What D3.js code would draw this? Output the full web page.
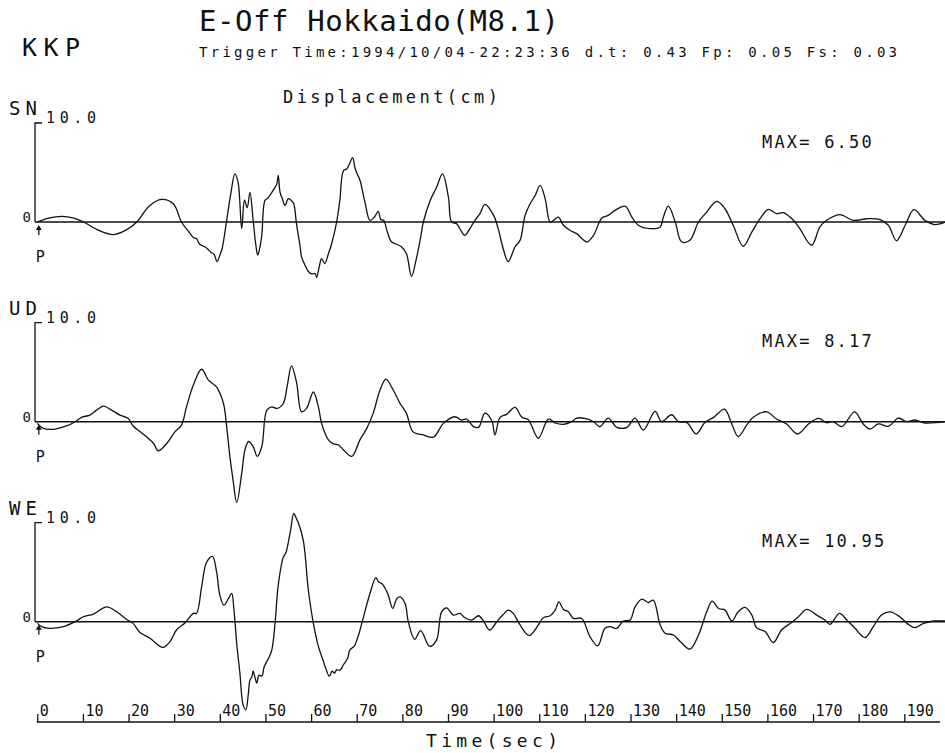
<!DOCTYPE html>
<html>
<head>
<meta charset="utf-8">
<title>E-Off Hokkaido (M8.1) - KKP displacement</title>
<script src="https://cdn.jsdelivr.net/npm/d3@7"></script>
<style>
  html, body { margin: 0; padding: 0; background: #fff; }
  svg { display: block; }
  text { font-family: "DejaVu Sans Mono", "Liberation Mono", monospace; fill: #111; }
</style>
</head>
<body>
<svg id="chart" width="945" height="753"></svg>
<script>
// ---- station / event header ----
const stationCode = "KKP";
const eventTitle = "E-Off Hokkaido(M8.1)";
const triggerInfo = "Trigger Time:1994/10/04-22:23:36 d.t: 0.43  Fp: 0.05  Fs: 0.03";
const quantityLabel = "Displacement(cm)";
const timeLabel = "Time(sec)";

// ---- axis ticks ----
const timeTicks = [0, 10, 20, 30, 40, 50, 60, 70, 80, 90, 100, 110, 120, 130, 140, 150, 160, 170, 180, 190];
const fullScale = 10.0;
const fullScaleLabel = "10.0";

// ---- components ----
const channels = ["SN", "UD", "WE"];
const maxValues = ["6.50", "8.17", "10.95"];

// displacement traces: [time (s), displacement (cm)]
const snTrace = [
  [0,0],[2.5,0.38],[5.3,0.57],[8,0.4],[10.1,0],[13.5,-0.85],[16.7,-1.27],[19.5,-0.8],[21.8,0],
  [24.5,1.6],[27.2,2.28],[29.8,1.84],[31.6,0],[33.5,-1.17],[34.2,-1.57],[34.9,-1.7],[35.6,-2.25],
  [36.5,-2.45],[37.3,-2.7],[38.0,-3.05],[38.7,-3.25],[39.4,-4.0],[40.0,-3.35],[40.5,-2.68],
  [41.5,0.17],[42.4,2.85],[43.3,4.86],[44.0,4.0],[44.8,-0.67],[45.4,2.2],[46.0,1.44],[46.6,3.0],
  [47.3,0.17],[47.9,-2.35],[48.3,-3.35],[48.8,-2.5],[49.2,-1.34],[49.9,2.18],[50.6,2.45],[51.4,3.0],
  [52.1,3.5],[52.5,3.85],[52.8,4.7],[53.2,3.0],[53.7,2.35],[54.3,1.67],[55.0,2.35],[55.7,2.18],
  [56.2,1.84],[56.8,-0.17],[57.6,-2.5],[57.9,-3.5],[58.3,-4.0],[58.8,-4.5],[59.4,-5.0],[60.1,-5.25],
  [60.9,-5.2],[61.2,-5.6],[61.8,-4.5],[62.3,-3.7],[63.0,-4.2],[63.8,-3.2],[64.5,-2.2],[65.6,0],
  [66.3,2.2],[67.1,5.2],[67.8,5.36],[68.4,5.86],[69.1,6.5],[69.6,5.5],[70.1,4.86],[70.7,4.25],
  [71.8,2.0],[72.9,0.17],[73.9,0.5],[74.7,1.07],[75.3,0.23],[75.9,0.17],[76.7,-1.0],[77.6,-2.0],
  [78.7,-2.25],[79.8,-2.5],[80.9,-3.2],[82.0,-5.5],[83.0,-3.85],[83.9,-1.84],[84.6,0],[86.1,2.18],
  [87.5,3.5],[88.8,4.86],[90.1,2.5],[90.8,0],[91.9,-0.17],[93.0,-1.0],[93.7,-1.34],[94.8,-0.67],
  [95.9,0.17],[97.0,0.84],[98.1,1.78],[100.0,0.67],[101.0,-0.67],[102.1,-2.7],[103.2,-4.0],
  [104.7,-2.5],[105.8,-1.84],[106.9,0.67],[108.0,1.84],[109.1,2.68],[110.2,3.7],[111.3,2.35],
  [112.4,0],[113.5,0.3],[114.2,0.5],[115.3,-0.33],[116.7,-0.84],[118.2,-1.17],[120.4,-2.0],
  [121.9,-1.34],[123.7,0.4],[125.1,0.67],[126.6,1.17],[128.8,1.6],[130.3,0.5],[131.7,-0.33],
  [134.3,-0.67],[136.5,-0.5],[137.2,0.5],[138.3,1.6],[139.8,0],[141.2,-2.0],[143.0,-1.84],
  [144.9,0],[146.7,1.0],[148.9,2.08],[150.7,1.34],[152.5,-0.33],[154.7,-2.45],[156.6,-1.0],
  [158.4,0.33],[160.2,1.27],[162.0,0.84],[163.5,0.94],[165.7,0.17],[167.1,-0.67],[169.7,-2.35],
  [171.5,-0.5],[173.0,0.17],[175.9,0.74],[178.8,0.17],[181.8,0.33],[184.7,0.23],[186.5,-0.33],
  [188.3,-1.9],[190.2,-0.33],[192.1,1.24],[194.5,0.17],[196.4,-0.25],[197.8,-0.2],[198.9,0]
];

const udTrace = [
  [0,-0.17],[1.3,-0.67],[3.5,-0.77],[6.4,-0.43],[8.3,0],[9.7,0.44],[11.5,0.67],[13.0,1.17],
  [14.5,1.57],[16.3,1.17],[18.1,0.67],[19.9,0.34],[21.0,-0.44],[22.5,-1.0],[24.3,-1.67],
  [25.5,-2.2],[26.5,-2.95],[28.4,-2.18],[30.2,-1.0],[31.6,-0.34],[32.7,1.5],[34.2,3.7],[36.0,5.3],
  [37.5,4.2],[39.3,3.5],[40.8,1.84],[41.5,-0.5],[42.2,-3.5],[42.9,-5.9],[43.7,-8.17],[44.8,-5.2],
  [45.5,-2.85],[46.3,-2.0],[47.3,-2.5],[48.2,-3.5],[49.2,-2.5],[50.3,1.17],[51.4,1.5],[52.5,1.34],
  [53.9,1.84],[54.8,3.7],[55.7,5.63],[56.8,4.0],[57.9,1.0],[59.0,1.34],[60.5,3.0],[61.6,1.5],
  [62.3,-0.17],[63.8,-1.84],[64.9,-2.24],[66.0,-2.35],[67.1,-2.85],[68.9,-3.5],[70.7,-1.84],
  [72.2,-0.67],[73.6,0.84],[75.1,3.2],[76.4,4.3],[78.0,3.2],[79.5,1.84],[80.9,0.84],[82.3,-1.0],
  [84.6,-1.34],[86.8,-1.57],[89.0,-0.17],[91.5,0.5],[93.0,0.17],[94.1,0.27],[95.6,-0.5],
  [96.7,-0.57],[98.1,0.87],[99.6,0.1],[100.3,-1.34],[101.4,0.44],[102.9,0.77],[104.7,1.44],
  [106.2,0.44],[107.6,0.2],[109.8,-1.67],[112.0,0.27],[113.5,-0.13],[115.3,-0.27],[117.1,0],
  [118.2,0.37],[120.0,0.33],[121.9,0],[123.3,-0.5],[125.1,0.37],[127.0,-0.57],[129.2,-0.57],
  [131.0,0.37],[132.8,-0.84],[135.4,1.04],[136.8,0],[139.0,0.7],[140.5,0],[142.3,-0.07],
  [144.4,-1.24],[146.3,-0.07],[148.2,0.44],[150.6,1.27],[152.2,-0.23],[153.6,-1.5],[155.5,-0.33],
  [156.9,0.44],[159.8,1.0],[162.0,0.27],[164.2,-0.23],[166.6,-1.24],[169.0,-0.23],[171.2,0.33],
  [173.0,-0.1],[174.4,0],[176.3,-0.5],[179.1,1.0],[181.0,-0.23],[182.5,-0.74],[184.3,-0.23],
  [186.5,-0.47],[188.7,0.37],[190.5,0],[192.3,0.17],[194.5,-0.13],[198.9,0]
];

const weTrace = [
  [0,-0.17],[1.0,-0.5],[2.8,-0.67],[5.7,-0.5],[8.3,0],[10.1,0.5],[12.3,0.77],[15.2,1.5],[17.4,1.0],
  [19.6,0.23],[21.0,-0.17],[22.5,-1.1],[24.7,-1.67],[27.5,-2.6],[29.1,-2.0],[30.5,-0.84],
  [32.4,-0.1],[34.2,0.84],[34.9,0.84],[36.0,3.5],[37.1,6.0],[38.4,6.6],[39.3,5.0],[40.0,2.7],
  [40.9,1.67],[41.9,2.35],[42.6,2.85],[43.1,1.17],[43.7,-2.2],[44.4,-5.2],[45.1,-8.4],[45.7,-8.9],
  [46.2,-7.5],[46.6,-5.9],[47.0,-5.6],[47.3,-5.0],[47.8,-5.8],[48.1,-6.2],[48.6,-5.4],[49.2,-5.5],
  [49.7,-4.6],[50.3,-4.0],[50.8,-3.6],[51.4,-2.85],[52.1,-0.17],[52.8,3.7],[53.9,6.5],[54.5,7.0],
  [55.0,8.0],[55.6,9.5],[56.2,10.95],[56.7,10.5],[57.2,10.0],[58.3,8.2],[59.4,3.2],[60.5,-0.17],
  [61.6,-2.5],[62.7,-4.0],[63.2,-4.7],[64.0,-5.5],[64.6,-5.0],[65.1,-5.2],[65.6,-4.86],[66.3,-4.9],
  [67.1,-4.35],[68.0,-3.7],[68.5,-2.85],[69.4,-2.5],[70.3,-1.5],[71.4,0.33],[72.9,2.85],[74.2,4.45],
  [74.8,4.0],[75.5,3.85],[76.2,3.4],[76.9,2.7],[77.9,1.34],[78.8,2.35],[79.5,2.5],[80.6,1.84],
  [81.3,0],[82.7,-1.78],[84.0,-0.9],[86.0,-2.5],[87.5,-1.84],[88.6,1.0],[89.7,1.4],[91.2,0.67],
  [92.6,0.84],[93.7,0.4],[95.2,0.17],[96.7,0.6],[97.8,0.07],[99.1,-0.84],[100.7,0],[102.0,0.67],
  [103.2,1.17],[104.3,0.84],[105.8,-0.33],[107.8,-1.4],[109.8,-0.33],[110.9,0.4],[112.4,0.6],
  [113.5,1.17],[114.3,2.0],[115.3,1.24],[116.4,1.0],[117.5,0.33],[119.3,0.33],[121.1,-1.5],
  [122.8,-2.45],[124.4,-0.67],[125.5,-0.5],[127.0,-0.67],[128.4,0.07],[129.9,0.17],[131.0,1.5],
  [132.5,2.28],[133.9,1.94],[135.0,2.18],[136.5,-0.33],[137.6,-1.17],[139.4,-1.34],[140.9,-2.0],
  [143.0,-2.78],[144.9,-1.34],[146.7,1.0],[147.9,2.08],[149.3,1.34],[150.7,1.17],[152.2,0.07],
  [153.6,1.0],[155.1,1.44],[156.6,0.67],[157.6,-0.6],[159.5,-1.0],[161.3,-2.1],[163.1,-0.84],
  [165.3,-0.07],[166.8,0.5],[168.6,1.24],[170.8,0.67],[172.6,0.17],[173.7,-0.27],[175.8,0.84],
  [177.4,0.17],[179.2,-0.67],[181.4,-1.6],[183.2,-0.5],[185.0,0.67],[186.9,1.0],[189.0,0.5],
  [190.9,-0.27],[192.3,-0.6],[194.2,-0.17],[196.4,0.07],[198.9,0.07]
];

const traces = [snTrace, udTrace, weTrace];

// ---- layout ----
const W = 945, H = 753;
const svg = d3.select("#chart");
svg.append("rect").attr("width", W).attr("height", H).attr("fill", "#fff");

const ink = "#111";
const x = d3.scaleLinear().domain([0, 190]).range([37.3, 904.3]);
const axisLeftX = 35;
const panelZero = [222, 421.7, 621.7];
const panelHalf = 99;
const rightEdge = W;

// header
svg.append("text").attr("x", 199).attr("y", 31)
  .attr("font-size", 29).attr("textLength", 360).attr("lengthAdjust", "spacing")
  .text(eventTitle);
svg.append("text").attr("x", 22).attr("y", 56)
  .attr("font-size", 25).attr("textLength", 58).attr("lengthAdjust", "spacing")
  .text(stationCode);
svg.append("text").attr("x", 199).attr("y", 57)
  .attr("font-size", 14).attr("textLength", 698).attr("lengthAdjust", "spacing")
  .text(triggerInfo);
svg.append("text").attr("x", 283).attr("y", 103)
  .attr("font-size", 17).attr("textLength", 215).attr("lengthAdjust", "spacing")
  .text(quantityLabel);

const line = d3.line()
  .x(d => x(d[0]))
  .curve(d3.curveCatmullRom.alpha(0.5));

channels.forEach((name, i) => {
  const zero = panelZero[i];
  const y = d3.scaleLinear().domain([-fullScale, fullScale]).range([zero + panelHalf, zero - panelHalf]);
  const g = svg.append("g").attr("class", "panel panel-" + name);

  // zero line
  g.append("line")
    .attr("x1", axisLeftX).attr("x2", rightEdge)
    .attr("y1", y(0)).attr("y2", y(0))
    .attr("stroke", ink).attr("stroke-width", 1.4);

  // amplitude bracket up to full scale
  g.append("path")
    .attr("d", `M${axisLeftX + 7},${y(fullScale)} H${axisLeftX} V${y(0)}`)
    .attr("fill", "none").attr("stroke", ink).attr("stroke-width", 1.3);

  g.append("text").attr("x", 9).attr("y", y(fullScale) - 8)
    .attr("font-size", 19).attr("textLength", 28).attr("lengthAdjust", "spacing")
    .text(name);
  g.append("text").attr("x", 46).attr("y", y(fullScale))
    .attr("font-size", 15).attr("textLength", 50).attr("lengthAdjust", "spacing")
    .text(fullScaleLabel);
  g.append("text").attr("x", 31).attr("y", y(0)).attr("text-anchor", "end")
    .attr("font-size", 14)
    .text("0");

  // P-wave arrival marker
  const px = x(0) + 1.5;
  g.append("line")
    .attr("x1", px).attr("x2", px)
    .attr("y1", y(0) + 6).attr("y2", y(0) + 13)
    .attr("stroke", ink).attr("stroke-width", 1.3);
  g.append("path")
    .attr("d", `M${px},${y(0) + 3} L${px - 3},${y(0) + 8} L${px + 3},${y(0) + 8} Z`)
    .attr("fill", ink);
  g.append("text").attr("x", px - 3).attr("y", y(0) + 40)
    .attr("font-size", 15)
    .text("P");

  // peak amplitude
  g.append("text").attr("x", 762).attr("y", y(0) - 74.5)
    .attr("font-size", 17).attr("letter-spacing", 2.2)
    .text("MAX= " + maxValues[i]);

  // trace
  g.append("path")
    .datum(traces[i])
    .attr("d", line.y(d => y(d[1])))
    .attr("fill", "none")
    .attr("stroke", ink)
    .attr("stroke-width", 1.3)
    .attr("stroke-linejoin", "round");
});

// time axis
const axisY = 722;
const xAxis = d3.axisBottom(x)
  .tickValues(timeTicks)
  .tickSizeInner(-8)
  .tickSizeOuter(0)
  .tickFormat(d3.format("d"));

const ax = svg.append("g").attr("transform", `translate(0,${axisY})`).call(xAxis);
ax.select(".domain").remove();
ax.selectAll(".tick line").attr("stroke", ink).attr("stroke-width", 1.3);
ax.selectAll(".tick text")
  .attr("x", 2).attr("y", -6).attr("dy", 0)
  .attr("text-anchor", "start")
  .attr("font-size", 15)
  .attr("font-family", "DejaVu Sans Mono, monospace")
  .attr("fill", ink);
ax.append("line")
  .attr("x1", x(0) - 0.5).attr("x2", 940)
  .attr("y1", 0).attr("y2", 0)
  .attr("stroke", ink).attr("stroke-width", 1.4);

svg.append("text").attr("x", 426).attr("y", 747)
  .attr("font-size", 18).attr("textLength", 132).attr("lengthAdjust", "spacing")
  .text(timeLabel);
</script>
</body>
</html>
